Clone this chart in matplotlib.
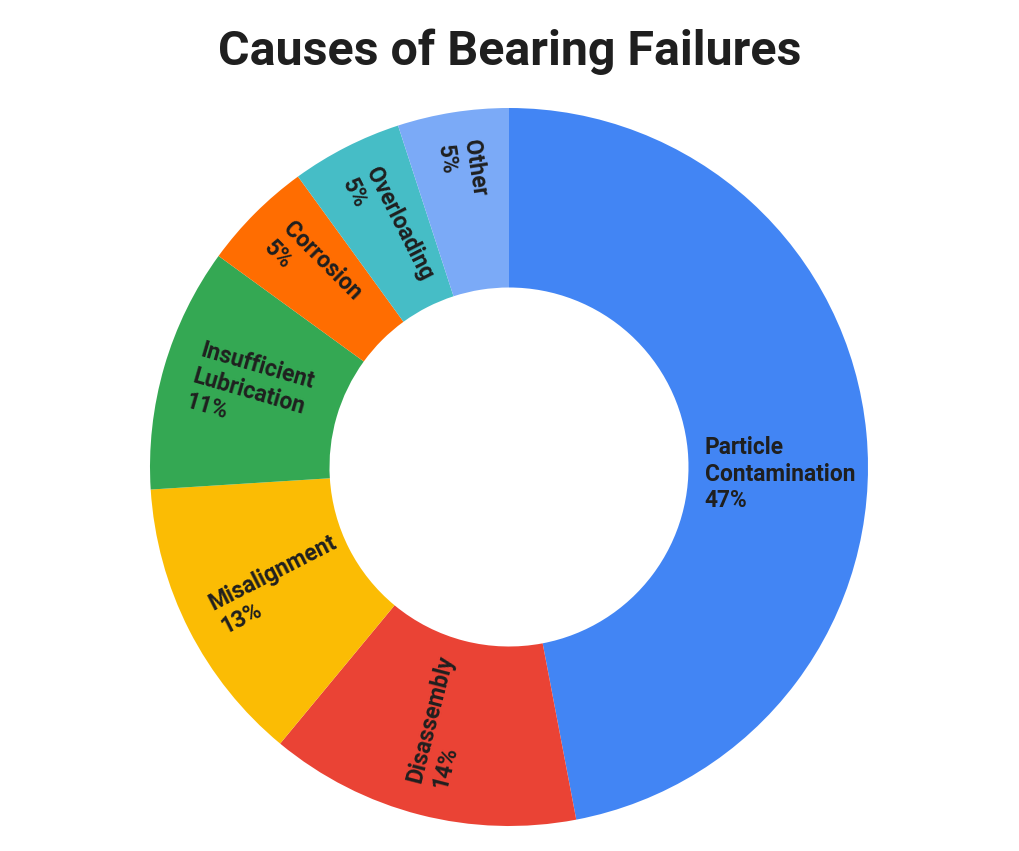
import numpy as np
import matplotlib
matplotlib.use("Agg")
import matplotlib.pyplot as plt

labels = ["Particle\nContamination", "Disassembly", "Misalignment",
          "Insufficient\nLubrication", "Corrosion", "Overloading", "Other"]
values = [47, 14, 13, 11, 5, 5, 5]
colors = ["#4285F4", "#EA4335", "#FBBC04", "#34A853", "#FF6D01", "#46BDC6", "#7BAAF7"]

plt.rcParams["font.family"] = ["Roboto", "DejaVu Sans"]

W, H = 1019, 851
fig = plt.figure(figsize=(W / 100, H / 100), dpi=100)
cx, cy, R = 509, 467, 359
ax = fig.add_axes([(cx - R) / W, (H - cy - R) / H, 2 * R / W, 2 * R / H])

wedges, _ = ax.pie(values, colors=colors, startangle=90, counterclock=False,
                   radius=1, wedgeprops=dict(width=0.5, edgecolor="none"))
ax.set_xlim(-1, 1)
ax.set_ylim(-1, 1)
ax.axis("off")

total = sum(values)
for w, lab, v in zip(wedges, labels, values):
    mid = (w.theta1 + w.theta2) / 2
    a = np.deg2rad(mid)
    txt = f"{lab}\n{round(100 * v / total)}%"
    if np.cos(a) > 0:
        # big right slice: horizontal, starting just outside the hole
        ax.text(0.545, -0.02, txt, ha="left", va="center", fontsize=16.4,
                fontweight="bold", color="#1f1f1f", linespacing=1.2)
    else:
        r0 = 0.915
        ax.text(r0 * np.cos(a), r0 * np.sin(a), txt, rotation=mid - 180,
                rotation_mode="anchor", ha="left", va="center",
                multialignment="left", fontsize=16.4, fontweight="bold",
                color="#1f1f1f", linespacing=1.2)

fig.text(0.5, 1 - 52 / H, "Causes of Bearing Failures", ha="center", va="center",
         fontsize=34.8, fontweight="bold", color="#1f1f1f")

fig.savefig("out.png", dpi=100, facecolor="white")
